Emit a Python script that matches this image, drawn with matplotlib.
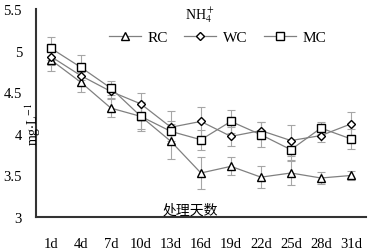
import matplotlib
matplotlib.use('Agg')
import matplotlib.pyplot as plt
import numpy as np

# treatment days and NH4+ concentration (mg/L)
days = ['1d', '4d', '7d', '10d', '13d', '16d', '19d', '22d', '25d', '28d', '31d']
rc = [4.89, 4.62, 4.31, 4.21, 3.91, 3.53, 3.61, 3.48, 3.53, 3.47, 3.50]
wc = [4.93, 4.70, 4.51, 4.36, 4.08, 4.15, 3.97, 4.04, 3.92, 3.98, 4.12]
mc = [5.03, 4.80, 4.55, 4.21, 4.03, 3.93, 4.15, 3.99, 3.81, 4.07, 3.94]
rc_err = [0.13, 0.12, 0.11, 0.15, 0.21, 0.19, 0.11, 0.13, 0.14, 0.07, 0.05]
wc_err = [0.10, 0.12, 0.08, 0.13, 0.19, 0.17, 0.11, 0.10, 0.19, 0.08, 0.14]
mc_err = [0.14, 0.15, 0.08, 0.17, 0.12, 0.12, 0.14, 0.15, 0.12, 0.07, 0.12]

plt.rcParams['font.family'] = ['Liberation Serif', 'DejaVu Serif']
plt.rcParams['mathtext.fontset'] = 'stix'

fig = plt.figure(figsize=(3.7, 2.53), dpi=100)
ax = fig.add_axes([0.097, 0.138, 0.892, 0.822])

x = np.arange(len(days)) + 0.5
series = [('RC', rc, rc_err, '^', 6), ('WC', wc, wc_err, 'D', 4.5), ('MC', mc, mc_err, 's', 6)]
for name, vals, errs, mk, ms in series:
    ax.errorbar(x, vals, yerr=errs, fmt='none', ecolor='#a6a6a6', elinewidth=0.8,
                capsize=3, capthick=0.8, zorder=1)
    ax.plot(x, vals, color='#808080', linewidth=0.9, marker=mk, markersize=ms,
            markerfacecolor='white', markeredgecolor='black', markeredgewidth=1.0,
            label=name, zorder=3)

ax.set_xlim(0, len(days))
ax.set_ylim(3, 5.5)
ax.set_xticks(x)
ax.set_xticklabels(days, fontsize=10.5)
ax.set_yticks([3, 3.5, 4, 4.5, 5, 5.5])
ax.set_yticklabels(['3', '3.5', '4', '4.5', '5', '5.5'], fontsize=10.5)
ax.tick_params(axis='x', length=0, pad=14)
ax.tick_params(axis='y', length=0, pad=10)

for s in ['top', 'right']:
    ax.spines[s].set_visible(False)
for s in ['left', 'bottom']:
    ax.spines[s].set_linewidth(1.5)
    ax.spines[s].set_color('#333333')

ax.legend(loc='center', bbox_to_anchor=(0.55, 0.865), ncol=3, frameon=False,
          fontsize=11, handlelength=2.1, columnspacing=1.1, handletextpad=0.4,
          borderpad=0.2)

fig.text(200 / 370, 1 - 15 / 253, r'NH$_4^+$', fontsize=10, ha='center', va='center')
fig.text(33 / 370, 1 - 125 / 253, r'mg$\cdot$L$^{-1}$', fontsize=10, rotation=90,
         ha='center', va='center')
fig.text(190 / 370, 1 - 211 / 253, '处理天数', fontsize=10, ha='center', va='center',
         family=['Noto Sans CJK SC', 'DejaVu Sans'])

fig.savefig('out.png', dpi=100)
